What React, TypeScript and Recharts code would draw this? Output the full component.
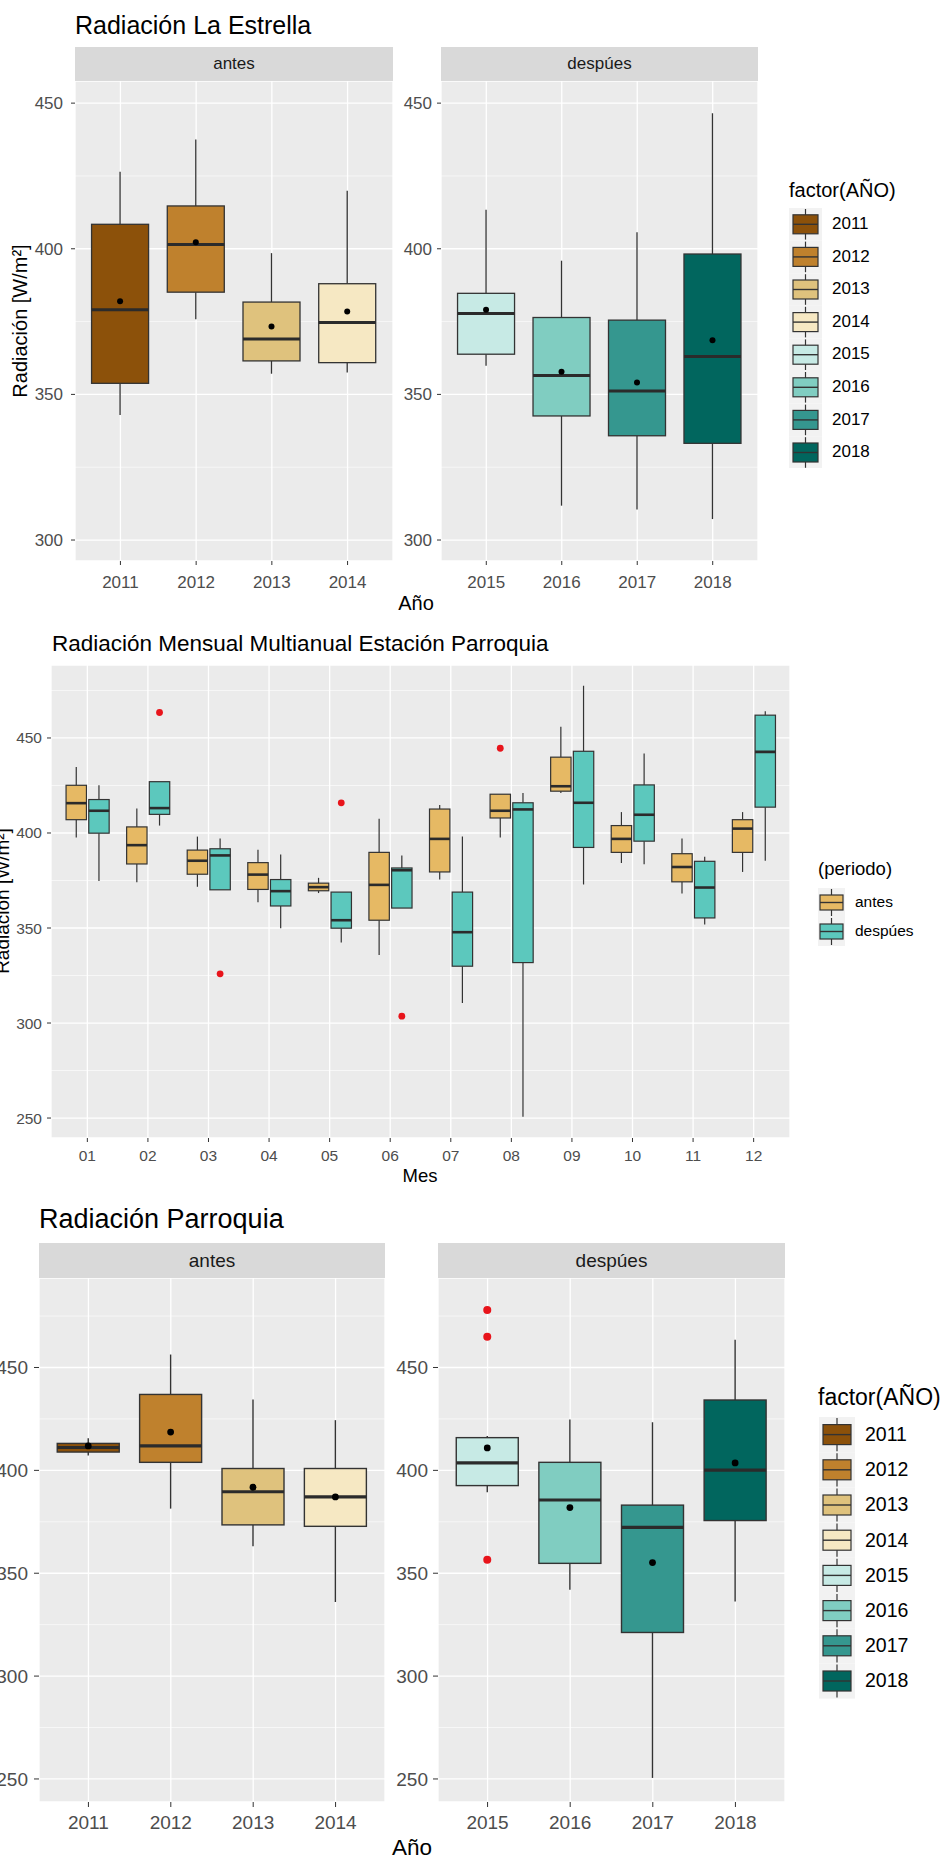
import React from "react";
import { Bar, CartesianGrid, ComposedChart, XAxis, YAxis } from "recharts";

const FONT = "'Liberation Sans', Arial, Helvetica, sans-serif";

// paleta BrBG (8 años)
const yearColors = ["#8C510A", "#BF812D", "#DFC27D", "#F6E8C3", "#C7EAE5", "#80CDC1", "#35978F", "#01665E"];
const periodoColors = ["#E6B964", "#5CC8BD"];

const yearsAntes = ["2011", "2012", "2013", "2014"];
const yearsDespues = ["2015", "2016", "2017", "2018"];
const years = [...yearsAntes, ...yearsDespues];

// Radiación La Estrella (W/m²)
const estrellaMin = [342.9, 375.8, 357.1, 357.5, 359.8, 311.8, 310.5, 307.2];
const estrellaQ1 = [353.8, 385.1, 361.5, 360.9, 363.8, 342.6, 335.8, 333.2];
const estrellaMediana = [379.1, 401.5, 369.0, 374.7, 377.8, 356.5, 351.2, 363.0];
const estrellaQ3 = [408.4, 414.7, 381.7, 388.0, 384.7, 376.4, 375.5, 398.2];
const estrellaMax = [426.4, 437.5, 398.5, 419.9, 413.4, 395.9, 405.7, 446.5];
const estrellaMedia = [382.0, 402.2, 373.3, 378.5, 379.1, 357.8, 354.1, 368.6];

// Radiación Parroquia (W/m²)
const parroquiaMin = [407.2, 381.4, 363.1, 336.0, 389.4, 342.0, 250.5, 336.2];
const parroquiaQ1 = [408.9, 403.9, 373.5, 372.8, 392.6, 354.8, 321.2, 375.6];
const parroquiaMediana = [411.1, 411.9, 389.6, 387.1, 403.6, 385.6, 372.3, 400.1];
const parroquiaQ3 = [413.1, 436.9, 400.9, 400.9, 415.9, 403.9, 383.1, 434.2];
const parroquiaMax = [415.6, 456.3, 434.4, 424.4, 416.7, 424.7, 423.4, 463.5];
const parroquiaMedia = [411.9, 418.6, 391.8, 387.1, 410.9, 381.9, 355.2, 403.6];
const parroquiaAtipicos: number[][] = [[], [], [], [], [478, 465, 356.5], [], [], []];

// Radiación mensual multianual, estación Parroquia
const meses = ["01", "02", "03", "04", "05", "06", "07", "08", "09", "10", "11", "12"];
const antesMin = [397.6, 374.1, 371.7, 363.5, 368.4, 335.8, 375.5, 397.6, 421.1, 384.2, 368.2, 379.5];
const antesQ1 = [407.0, 383.7, 378.3, 370.3, 369.6, 354.1, 379.5, 407.9, 422.0, 389.8, 374.3, 389.8];
const antesMediana = [415.7, 393.6, 385.4, 378.1, 371.5, 372.7, 396.9, 411.7, 424.6, 396.9, 382.1, 402.3];
const antesQ3 = [425.1, 403.2, 391.0, 384.4, 373.6, 389.8, 412.6, 420.4, 439.9, 403.9, 389.1, 407.0];
const antesMax = [434.7, 412.9, 398.1, 391.2, 376.4, 407.5, 414.7, 420.4, 455.9, 411.0, 397.1, 411.0];
const antesAtipicos: number[][] = [[], [], [], [], [], [], [], [444.6], [], [], [], []];

const despuesMin = [374.8, 403.9, 370.1, 349.9, 342.4, 360.5, 310.6, 250.7, 372.9, 383.5, 351.8, 385.4];
const despuesQ1 = [399.9, 409.8, 370.1, 361.6, 349.9, 360.5, 329.9, 331.8, 392.4, 395.7, 355.3, 413.6];
const despuesMediana = [411.7, 413.1, 388.2, 369.4, 354.1, 380.4, 347.8, 412.4, 415.9, 409.6, 371.3, 442.7];
const despuesQ3 = [417.6, 427.0, 391.7, 375.5, 368.9, 381.6, 368.9, 415.9, 443.0, 425.3, 385.1, 462.0];
const despuesMax = [425.1, 427.0, 397.1, 388.7, 368.9, 388.2, 398.1, 421.1, 477.5, 441.8, 387.5, 464.1];
const despuesAtipicos: number[][] = [[], [463.4], [325.9], [], [415.9], [303.6], [], [], [], [], [], []];

const ticksEstrella = [300, 350, 400, 450];
const minorEstrella = [325, 375, 425];
const ticksParroquia = [250, 300, 350, 400, 450];
const minorParroquia = [275, 325, 375, 425, 475];

type Box = {
  range: [number, number];
  q1: number;
  med: number;
  q3: number;
  mean: number | null;
  out: number[];
  fill: string;
};

const estrellaRows = years.map((y, i) => ({
  cat: y,
  box: {
    range: [estrellaMin[i], estrellaMax[i]],
    q1: estrellaQ1[i],
    med: estrellaMediana[i],
    q3: estrellaQ3[i],
    mean: estrellaMedia[i],
    out: [],
    fill: yearColors[i],
  } as Box,
}));

const parroquiaRows = years.map((y, i) => ({
  cat: y,
  box: {
    range: [parroquiaMin[i], parroquiaMax[i]],
    q1: parroquiaQ1[i],
    med: parroquiaMediana[i],
    q3: parroquiaQ3[i],
    mean: parroquiaMedia[i],
    out: parroquiaAtipicos[i],
    fill: yearColors[i],
  } as Box,
}));

const mesRows = meses.map((m, i) => ({
  cat: m,
  antes: {
    range: [antesMin[i], antesMax[i]],
    q1: antesQ1[i],
    med: antesMediana[i],
    q3: antesQ3[i],
    mean: null,
    out: antesAtipicos[i],
    fill: periodoColors[0],
  } as Box,
  despues: {
    range: [despuesMin[i], despuesMax[i]],
    q1: despuesQ1[i],
    med: despuesMediana[i],
    q3: despuesQ3[i],
    mean: null,
    out: despuesAtipicos[i],
    fill: periodoColors[1],
  } as Box,
}));

type BoxStyle = { line: number; med: number; meanR: number; outR: number };

// dibuja el boxplot completo dentro del rango [min, max] que la barra ya escaló
const makeShape = (key: string, st: BoxStyle) => (props: any) => {
  const { x, y, width, height, payload } = props;
  const b: Box = payload[key];
  const [lo, hi] = b.range;
  const top = Math.min(y, y + height);
  const h = Math.abs(height);
  const py = (v: number) => top + ((hi - v) / (hi - lo)) * h;
  const cx = x + width / 2;
  return (
    <g>
      <line x1={cx} x2={cx} y1={py(hi)} y2={py(b.q3)} stroke="#333333" strokeWidth={st.line} />
      <line x1={cx} x2={cx} y1={py(b.q1)} y2={py(lo)} stroke="#333333" strokeWidth={st.line} />
      <rect x={x} y={py(b.q3)} width={width} height={py(b.q1) - py(b.q3)} fill={b.fill} stroke="#333333" strokeWidth={st.line} />
      <line x1={x} x2={x + width} y1={py(b.med)} y2={py(b.med)} stroke="#2B2B2B" strokeWidth={st.med} />
      {b.mean != null && <circle cx={cx} cy={py(b.mean)} r={st.meanR} fill="#000000" />}
      {b.out.map((v, j) => (
        <circle key={j} cx={cx} cy={py(v)} r={st.outR} fill="#E8141B" />
      ))}
    </g>
  );
};

function Txt({ x, y, fs, children, anchor = "start", color = "#000000", rotate = false }: any) {
  const tx = anchor === "middle" || rotate ? "-50%" : "0";
  return (
    <div
      style={{
        position: "absolute",
        left: x,
        top: y,
        fontSize: fs,
        lineHeight: `${fs * 1.2}px`,
        color,
        whiteSpace: "nowrap",
        transform: `translate(${tx}, -50%)${rotate ? " rotate(-90deg)" : ""}`,
      }}
    >
      {children}
    </div>
  );
}

function Strip({ left, top, w, h, fs, children }: any) {
  return (
    <div
      style={{
        position: "absolute",
        left,
        top,
        width: w,
        height: h,
        background: "#D9D9D9",
        color: "#1A1A1A",
        fontSize: fs,
        lineHeight: `${h}px`,
        textAlign: "center",
      }}
    >
      {children}
    </div>
  );
}

function BoxPanel(p: any) {
  const tickStyle = { fill: "#4D4D4D", fontSize: p.fs, fontFamily: FONT };
  return (
    <div style={{ position: "absolute", left: p.left, top: p.top }}>
      <ComposedChart
        width={p.yW + p.pw}
        height={p.ph + p.xH}
        data={p.rows}
        margin={{ top: 0, right: 0, bottom: 0, left: 0 }}
        barGap={p.barGap}
      >
        <CartesianGrid fill="#EBEBEB" stroke="#FFFFFF" strokeWidth={1.3} />
        <CartesianGrid horizontalValues={p.minor} vertical={false} stroke="#FFFFFF" strokeWidth={0.6} />
        <XAxis
          dataKey="cat"
          interval={0}
          axisLine={false}
          height={p.xH}
          tickSize={p.tickLen}
          tickMargin={p.xGap}
          padding={{ left: p.pad, right: p.pad }}
          tick={tickStyle}
          tickLine={{ stroke: "#333333" }}
        />
        <YAxis
          type="number"
          domain={p.domain}
          allowDataOverflow
          ticks={p.ticks}
          width={p.yW}
          axisLine={false}
          tickSize={p.tickLen}
          tickMargin={p.yGap}
          tick={tickStyle}
          tickLine={{ stroke: "#333333" }}
        />
        {p.keys.map((k: string) => (
          <Bar
            key={k}
            dataKey={(d: any) => d[k].range}
            barSize={p.barSize}
            isAnimationActive={false}
            shape={makeShape(k, p.st)}
          />
        ))}
      </ComposedChart>
    </div>
  );
}

function BoxLegend({ x, titleY, title, titleFs, labels, fills, fs, y0, step, cellX, cellW, boxW, boxH, labelX }: any) {
  const n = labels.length;
  const cx = cellW / 2;
  return (
    <>
      <Txt x={x} y={titleY} fs={titleFs}>{title}</Txt>
      <svg
        width={cellW}
        height={step * n}
        style={{ position: "absolute", left: cellX, top: y0 - step / 2 }}
      >
        {labels.map((l: string, i: number) => {
          const cy = step * i + step / 2;
          return (
            <g key={l}>
              <rect x={0} y={step * i} width={cellW} height={step} fill="#F2F2F2" />
              <line x1={cx} x2={cx} y1={step * i + 1} y2={step * (i + 1) - 1} stroke="#333333" strokeWidth={1.2} />
              <rect x={cx - boxW / 2} y={cy - boxH / 2} width={boxW} height={boxH} fill={fills[i]} stroke="#333333" strokeWidth={1.2} />
              <line x1={cx - boxW / 2} x2={cx + boxW / 2} y1={cy} y2={cy} stroke="#333333" strokeWidth={1.4} />
            </g>
          );
        })}
      </svg>
      {labels.map((l: string, i: number) => (
        <Txt key={l} x={labelX} y={y0 + step * i} fs={fs}>{l}</Txt>
      ))}
    </>
  );
}

export default function App() {
  const estDomain = [292.8, 457.6];
  const mesDomain = [239.5, 488.4];
  const parDomain = [238.8, 493.5];
  const st1 = { line: 1.3, med: 3, meanR: 3, outR: 3.5 };
  const st2 = { line: 1.2, med: 2.6, meanR: 3, outR: 3.4 };
  const st3 = { line: 1.4, med: 3.2, meanR: 3.4, outR: 4 };
  return (
    <div
      style={{
        position: "absolute",
        left: 0,
        top: 0,
        width: 942,
        height: 1859,
        overflow: "hidden",
        background: "#FFFFFF",
        fontFamily: FONT,
      }}
    >
      {/* Radiación La Estrella */}
      <Txt x={75} y={25} fs={25}>Radiación La Estrella</Txt>
      <Strip left={75} top={47} w={318} h={34} fs={17}>antes</Strip>
      <Strip left={441} top={47} w={317} h={34} fs={17}>despúes</Strip>
      <BoxPanel
        left={0} top={81} yW={75} pw={318} ph={480} xH={40}
        rows={estrellaRows.slice(0, 4)} keys={["box"]} barSize={57} barGap={0}
        domain={estDomain} ticks={ticksEstrella} minor={minorEstrella}
        fs={17} tickLen={4} yGap={8} xGap={11} pad={318 / 42} st={st1}
      />
      <BoxPanel
        left={395} top={81} yW={46} pw={317} ph={480} xH={40}
        rows={estrellaRows.slice(4)} keys={["box"]} barSize={57} barGap={0}
        domain={estDomain} ticks={ticksEstrella} minor={minorEstrella}
        fs={17} tickLen={4} yGap={5} xGap={11} pad={317 / 42} st={st1}
      />
      <Txt x={20} y={321} fs={20} rotate>Radiación [W/m²]</Txt>
      <Txt x={416} y={603} fs={20} anchor="middle">Año</Txt>
      <BoxLegend
        x={789} titleY={190} title="factor(AÑO)" titleFs={20}
        labels={years} fills={yearColors} fs={17}
        y0={224} step={32.6} cellX={789} cellW={33} boxW={25} boxH={19} labelX={832}
      />

      {/* Radiación Mensual Multianual Estación Parroquia */}
      <Txt x={52} y={643} fs={22.5}>Radiación Mensual Multianual Estación Parroquia</Txt>
      <BoxPanel
        left={0} top={665} yW={51} pw={739} ph={473} xH={40}
        rows={mesRows} keys={["antes", "despues"]} barSize={20.4} barGap={2.3}
        domain={mesDomain} ticks={ticksParroquia} minor={minorParroquia}
        fs={15.5} tickLen={4} yGap={5} xGap={7.5} pad={739 / 122} st={st2}
      />
      <Txt x={3} y={901} fs={19} rotate>Radiación [W/m²]</Txt>
      <Txt x={420} y={1176} fs={18.5} anchor="middle">Mes</Txt>
      <BoxLegend
        x={818} titleY={869} title="(periodo)" titleFs={18.5}
        labels={["antes", "despúes"]} fills={periodoColors} fs={15.5}
        y0={902} step={29} cellX={818} cellW={27} boxW={23} boxH={15} labelX={855}
      />

      {/* Radiación Parroquia */}
      <Txt x={39} y={1219} fs={27}>Radiación Parroquia</Txt>
      <Strip left={39} top={1243} w={346} h={35} fs={19}>antes</Strip>
      <Strip left={438} top={1243} w={347} h={35} fs={19}>despúes</Strip>
      <BoxPanel
        left={0} top={1278} yW={39} pw={346} ph={524} xH={50}
        rows={parroquiaRows.slice(0, 4)} keys={["box"]} barSize={62} barGap={0}
        domain={parDomain} ticks={ticksParroquia} minor={minorParroquia}
        fs={19} tickLen={5} yGap={6} xGap={9} pad={346 / 42} st={st3}
      />
      <BoxPanel
        left={386} top={1278} yW={52} pw={347} ph={524} xH={50}
        rows={parroquiaRows.slice(4)} keys={["box"]} barSize={62} barGap={0}
        domain={parDomain} ticks={ticksParroquia} minor={minorParroquia}
        fs={19} tickLen={5} yGap={5} xGap={9} pad={347 / 42} st={st3}
      />
      <Txt x={412} y={1847} fs={22.5} anchor="middle">Año</Txt>
      <BoxLegend
        x={818} titleY={1398} title="factor(AÑO)" titleFs={23}
        labels={years} fills={yearColors} fs={19.5}
        y0={1435} step={35.2} cellX={819} cellW={36} boxW={28} boxH={20} labelX={865}
      />
    </div>
  );
}
